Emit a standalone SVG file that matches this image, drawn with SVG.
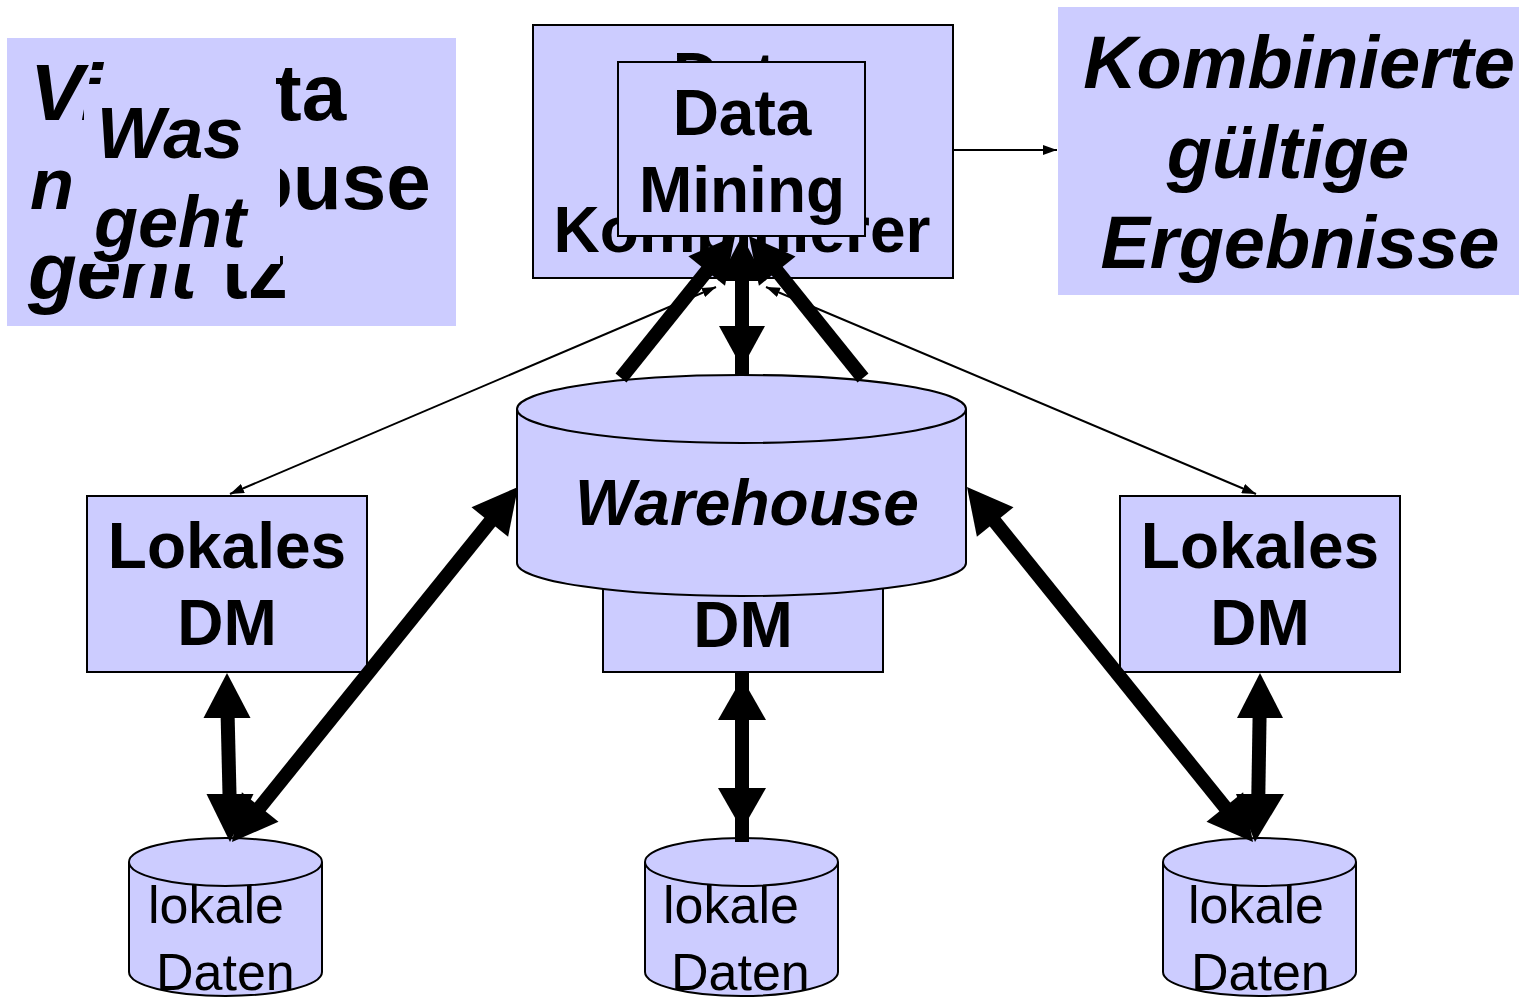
<svg xmlns="http://www.w3.org/2000/svg" width="1519" height="997" viewBox="0 0 1519 997">
  <style>
    .fill { fill: #CCCCFF; }
    .box { fill: #CCCCFF; stroke: #000; stroke-width: 2; }
    .t { font-family: "Liberation Sans", Arial, sans-serif; fill: #000; }
    .b { font-weight: bold; }
    .i { font-style: italic; }
    .s80 { font-size: 80px; }
    .s72 { font-size: 72px; }
    .s74 { font-size: 74px; }
    .s64 { font-size: 64px; }
    .s52 { font-size: 52px; }
    .mid { text-anchor: middle; }
    .thin { stroke: #000; stroke-width: 2; fill: none; }
    .thick { stroke: #000; stroke-width: 14; fill: none; }
    .head { fill: #000; }
  </style>
  <defs>
    <marker id="tip" viewBox="0 0 14 10" refX="14" refY="5" markerWidth="14" markerHeight="10" markerUnits="userSpaceOnUse" orient="auto-start-reverse">
      <path d="M0,0 L14,5 L0,10 z" fill="#000"/>
    </marker>
    <clipPath id="behindTitle">
      <path clip-rule="evenodd" d="M0,0 H470 V340 H0 Z M84,84 H280 V264 H84 Z"/>
    </clipPath>
  </defs>

  <!-- title panel: older caption partly covered by the newer one -->
  <g id="title">
    <rect class="fill" x="7" y="38" width="449" height="288"/>
    <g clip-path="url(#behindTitle)">
      <text class="t b i s80" x="30" y="120">Vi</text>
      <text class="t b s80" x="275" y="120">ta</text>
      <text class="t b i s72" x="30" y="209">n</text>
      <text class="t b s80" x="244" y="209">ouse</text>
      <text class="t b i s80" x="28" y="298">geht</text>
      <text class="t b s80" x="221" y="298">tz</text>
    </g>
    <text class="t b i s72 mid" x="170" y="158">Was</text>
    <text class="t b i s72 mid" x="170" y="247">geht</text>
  </g>

  <!-- combiner box -->
  <g id="kombinierer">
    <rect class="box" x="533" y="25" width="420" height="253"/>
    <text class="t b s64 mid" x="742" y="98">Data</text>
    <text class="t b s64 mid" x="742" y="252">Kombinierer</text>
  </g>

  <!-- results -->
  <g id="ergebnisse">
    <rect class="fill" x="1058" y="7" width="461" height="288"/>
    <text class="t b i s74 mid" x="1299" y="88">Kombinierte</text>
    <text class="t b i s74 mid" x="1288" y="178">gültige</text>
    <text class="t b i s74 mid" x="1300" y="268">Ergebnisse</text>
  </g>

  <!-- local data mining boxes -->
  <g id="dm-left">
    <rect class="box" x="87" y="496" width="280" height="176"/>
    <text class="t b s64 mid" x="227" y="568">Lokales</text>
    <text class="t b s64 mid" x="227" y="645">DM</text>
  </g>
  <g id="dm-center">
    <rect class="box" x="603" y="496" width="280" height="176"/>
    <text class="t b s64 mid" x="743" y="647">DM</text>
  </g>
  <g id="dm-right">
    <rect class="box" x="1120" y="496" width="280" height="176"/>
    <text class="t b s64 mid" x="1260" y="568">Lokales</text>
    <text class="t b s64 mid" x="1260" y="645">DM</text>
  </g>

  <!-- warehouse cylinder -->
  <g id="warehouse">
    <path class="box" d="M517,409 V563 A224.5,33 0 0 0 966,563 V409"/>
    <ellipse class="box" cx="741.5" cy="409" rx="224.5" ry="34"/>
    <text class="t b i s64 mid" x="747" y="525">Warehouse</text>
  </g>

  <!-- local data stores -->
  <g id="daten-left">
    <path class="box" d="M129,862 V972 A96.5,24 0 0 0 322,972 V862"/>
    <ellipse class="box" cx="225.5" cy="862" rx="96.5" ry="24"/>
    <text class="t s52" x="148" y="923">lokale</text>
    <text class="t s52" x="156" y="990">Daten</text>
  </g>
  <g id="daten-center">
    <path class="box" d="M645,862 V972 A96.5,24 0 0 0 838,972 V862"/>
    <ellipse class="box" cx="741.5" cy="862" rx="96.5" ry="24"/>
    <text class="t s52" x="663" y="923">lokale</text>
    <text class="t s52" x="671" y="990">Daten</text>
  </g>
  <g id="daten-right">
    <path class="box" d="M1163,862 V972 A96.5,24 0 0 0 1356,972 V862"/>
    <ellipse class="box" cx="1259.5" cy="862" rx="96.5" ry="24"/>
    <text class="t s52" x="1188" y="923">lokale</text>
    <text class="t s52" x="1191" y="990">Daten</text>
  </g>

  <!-- connectors -->
  <g id="connectors">
    <line class="thin" x1="953" y1="150" x2="1057" y2="150" marker-end="url(#tip)"/>
    <line class="thin" x1="716" y1="287" x2="230" y2="494" marker-start="url(#tip)" marker-end="url(#tip)"/>
    <line class="thin" x1="766" y1="287" x2="1256" y2="494" marker-start="url(#tip)" marker-end="url(#tip)"/>

    <!-- warehouse <-> combiner -->
    <line class="thick" x1="742" y1="250" x2="742" y2="375"/>
    <polygon class="head" points="742,236 718.5,281 765.5,281"/>
    <polygon class="head" points="742,368 719,326 765,326"/>
    <line class="thick" x1="621" y1="378" x2="722.4" y2="251.5"/>
    <polygon class="head" points="735,236 688.4,256.2 725,285.8"/>
    <line class="thick" x1="863" y1="378" x2="761.5" y2="251.6"/>
    <polygon class="head" points="749,236 795.5,256.4 758.9,285.8"/>

    <!-- warehouse <-> local data -->
    <line class="thick" x1="505.5" y1="502.6" x2="244.5" y2="826.4"/>
    <polygon class="head" points="518,487 471.5,507.3 508.1,536.7"/>
    <polygon class="head" points="232,842 241.9,792.3 278.5,821.7"/>
    <line class="thick" x1="979.5" y1="502.6" x2="1240.5" y2="826.4"/>
    <polygon class="head" points="967,487 1013.5,507.3 976.9,536.7"/>
    <polygon class="head" points="1253,842 1243.1,792.3 1206.5,821.7"/>

    <!-- local DM <-> local data -->
    <line class="thick" x1="227" y1="690" x2="230" y2="815"/>
    <polygon class="head" points="227,673 203.5,718 250.5,718"/>
    <polygon class="head" points="230,842 206.5,794 253.5,794"/>
    <line class="thick" x1="742" y1="672" x2="742" y2="842"/>
    <polygon class="head" points="742,678 718,720 766,720"/>
    <polygon class="head" points="742,830 718,788 766,788"/>
    <line class="thick" x1="1260" y1="690" x2="1258" y2="815"/>
    <polygon class="head" points="1260,673 1237,718 1283,718"/>
    <polygon class="head" points="1255,842 1236,794 1284,794"/>
  </g>

  <!-- data mining box inside the combiner -->
  <g id="data-mining">
    <rect class="box" x="618" y="62" width="247" height="174"/>
    <text class="t b s64 mid" x="742" y="135">Data</text>
    <text class="t b s64 mid" x="742" y="212">Mining</text>
  </g>
</svg>
